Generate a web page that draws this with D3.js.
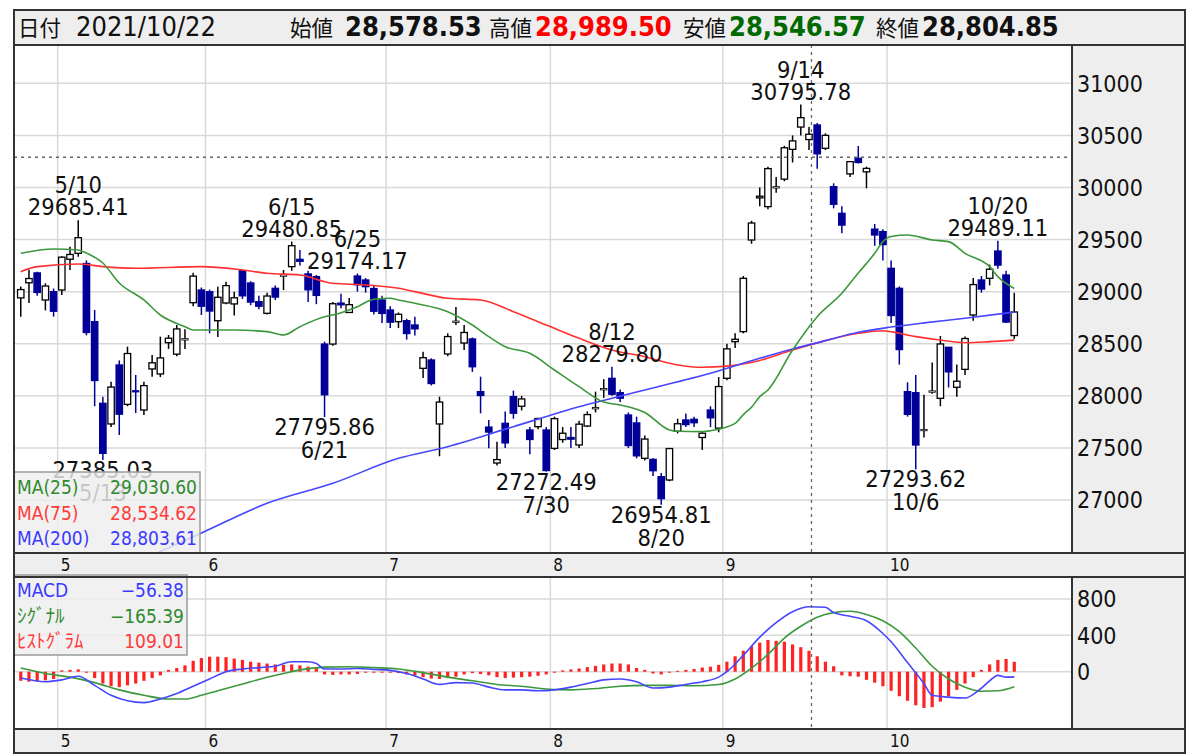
<!DOCTYPE html>
<html><head><meta charset="utf-8">
<script src="https://cdn.jsdelivr.net/npm/d3@7"></script>
<style>
body{margin:0;background:#fff;}
svg text{font-family:"DejaVu Sans Condensed","DejaVu Sans","Noto Sans CJK JP",sans-serif;}
</style></head><body>
<svg id="c" width="1200" height="756"></svg>
<script>
// ---- daily data (Nikkei 225, 2021) ----
const dates = ["4/23","4/26","4/27","4/28","4/30",
"5/6","5/7","5/10","5/11","5/12","5/13","5/14","5/17","5/18","5/19","5/20","5/21","5/24","5/25","5/26","5/27","5/28","5/31",
"6/1","6/2","6/3","6/4","6/7","6/8","6/9","6/10","6/11","6/14","6/15","6/16","6/17","6/18","6/21","6/22","6/23","6/24","6/25","6/28","6/29","6/30",
"7/1","7/2","7/5","7/6","7/7","7/8","7/9","7/12","7/13","7/14","7/15","7/16","7/19","7/20","7/21","7/26","7/27","7/28","7/29","7/30",
"8/2","8/3","8/4","8/5","8/6","8/10","8/11","8/12","8/13","8/16","8/17","8/18","8/19","8/20","8/23","8/24","8/25","8/26","8/27","8/30","8/31",
"9/1","9/2","9/3","9/6","9/7","9/8","9/9","9/10","9/13","9/14","9/15","9/16","9/17","9/21","9/22","9/24","9/27","9/28","9/29","9/30",
"10/1","10/4","10/5","10/6","10/7","10/8","10/11","10/12","10/13","10/14","10/15","10/18","10/19","10/20","10/21","10/22"];

const opens = [28940,29085,29180,28920,29000,
29016,29311,29368,29270,28712,27928,27730,28296,27918,28050,27864,28258,28210,28510,28400,28540,28894,29016,
29000,28721,28891,28882,29201,29083,28904,28792,29032,29150,29240,29310,29170,29144,28497,28497,28890,28800,29150,29112,29030,28920,
28824,28712,28721,28680,28264,28344,27730,28402,28712,28507,28546,28040,27700,27355,27736,27992,27900,27672,27704,27672,
27496,27580,27600,27528,27710,27880,28060,28168,28030,27816,27740,27400,27390,27224,27192,27660,27768,27775,27600,27864,27690,
28168,28520,28616,29496,29900,29816,30000,30080,30366,30580,30460,30600,30376,30008,29752,30130,30280,30150,29600,29576,
29224,29032,28040,28030,27670,28040,27976,28466,28082,28254,28776,29112,29128,29390,29160,28578.53];

const highs = [29050,29210,29190,29080,29030,
29340,29432,29685.41,29300,28824,27990,28136,28340,28472,28200,28136,28392,28568,28584,28680,28640,29182,29040,
29020,29048,29096,29000,29210,29100,28960,28990,29060,29208,29480.85,29400,29200,29160,28520,28900,28980,28940,29174.17,29130,29060,28960,
28860,28800,28740,28760,28424,28360,27992,28600,28853,28680,28560,28184,27768,27560,27850,28050,28000,27700,27790,27700,
27800,27700,27700,27760,27850,28040,28160,28279.80,28060,27840,27800,27620,27400,27260,27500,27780,27830,27800,27660,27900,28180,
28500,28600,29150,29680,30000,30200,30100,30400,30500,30795.78,30580,30620,30520,30040,29820,30250,30398,30200,29650,29600,
29300,29050,28130,28200,28010,28320,28574,28470,28300,28570,29130,29150,29260,29489.11,29200,28989.50];

const lows = [28760,28890,28960,28820,28760,
28968,29208,29336,28580,27900,27385.03,27700,27624,27900,27835,27816,28184,28180,28450,28380,28450,28860,28776,
28600,28565,28880,28770,28930,28870,28830,28780,28920,29016,29200,29250,28900,28880,27795.86,28480,28840,28800,29000,28990,28780,28700,
28650,28650,28540,28580,28171,28100,27420,28380,28680,28440,28230,27832,27496,27330,27500,27780,27860,27440,27680,27272.49,
27480,27550,27500,27500,27700,27840,27980,28000,27940,27500,27400,27380,27230,26954.81,27180,27640,27700,27700,27480,27700,27650,
28150,28460,28600,29460,29820,29790,29950,30060,30240,30500,30360,30180,30360,29800,29560,30100,30230,29992,29440,29300,
28700,28300,27800,27293.62,27600,28020,27900,28080,27990,28200,28720,28990,29060,29220,28700,28546.57];

const closes = [29020,29126,28992,29054,28812,
29331,29357,29518,28608,28147,27448,28084,27824,28406,28044,28098,28317,28364,28553,28642,28549,29149,28860,
28814,28946,29058,28941,28960,28900,28860,28958,28948,29161,29441,29291,29018,28964,28010,28884,28874,28875,29066,29048,28812,28791,
28707,28783,28598,28643,28366,28118,27940,28569,28718,28608,28279,28003,27652,27388,27548,27833,27970,27581,27782,27283,
27781,27641,27584,27728,27820,27888,28070,28015,27977,27523,27424,27585,27281,27013,27494,27732,27724,27742,27641,27789,28089,
28451,28543,29128,29659,29916,30181,30008,30381,30447,30670,30511,30323,30500,29839,29639,30248,30240,30183,29544,29452,
28771,28444,27822,27528,27678,28048,28498,28230,28140,28550,29068,29025,29215,29255,28708,28804.85];

// moving averages, [day index, value]
const ma25Pts = [[0,29368],[4,29410],[7,29400],[8,29370],[10,29275],[12,29083],[15,28920],[17,28776],[20,28664],[21,28632],[23,28632],[26,28632],[30,28616],[32,28584],[34,28664],[37,28760],[38,28776],[41,28856],[43,28927],[45,28936],[46,28920],[48,28888],[52,28808],[55,28680],[57,28568],[59,28472],[62,28408],[65,28248],[68,28088],[71,27940],[73,27912],[76,27840],[79,27672],[80,27660],[83,27656],[84,27665],[87,27736],[88,27820],[89,27890],[90,27992],[91,28056],[94,28440],[97,28760],[100,28984],[102,29179],[104,29368],[105,29480],[106,29530],[108,29544],[111,29496],[113,29480],[115,29368],[118,29240],[119,29144],[121,29030.60]];
const ma75Pts = [[0,29192],[2,29240],[7,29266],[10,29240],[14,29224],[22,29240],[27,29208],[30,29176],[34,29160],[38,29080],[42,29064],[46,29032],[48,29000],[52,28936],[56,28920],[60,28808],[64,28680],[68,28552],[72,28440],[76,28376],[80,28296],[83,28274],[86,28285],[90,28340],[94,28440],[98,28530],[102,28600],[105,28625],[107,28600],[109,28568],[112,28536],[115,28510],[118,28520],[121,28534.62]];
const ma200Pts = [[14,26400],[22,26683],[30,26968],[38,27160],[46,27400],[52,27512],[60,27704],[68,27896],[76,28056],[84,28216],[90,28360],[94,28450],[98,28530],[102,28610],[106,28660],[110,28700],[115,28744],[121,28803.61]];

// MACD
const macdPts = [[0,-70],[3,-110],[5,-90],[7,-50],[9,-150],[11,-260],[13,-320],[15,-340],[17,-300],[19,-240],[21,-160],[23,-80],[25,0],[27,30],[29,45],[31,60],[33,110],[35,110],[36,90],[37,30],[39,30],[41,35],[43,25],[45,15],[47,-20],[49,-80],[51,-140],[53,-120],[55,-125],[57,-170],[59,-200],[61,-200],[63,-210],[65,-200],[67,-170],[69,-130],[71,-90],[73,-80],[75,-110],[77,-180],[79,-170],[81,-140],[83,-110],[85,-60],[86,0],[88,180],[90,380],[92,540],[94,660],[96,715],[98,710],[99,650],[101,610],[103,560],[105,420],[106,330],[108,100],[110,-130],[111,-260],[113,-280],[115,-290],[116,-250],[117,-180],[118,-100],[119,-40],[120,-60],[121,-56.38]];
const signalPts = [[0,40],[3,-20],[6,-60],[9,-120],[12,-200],[15,-260],[18,-300],[20,-300],[22,-260],[24,-210],[26,-160],[28,-110],[30,-60],[32,-20],[34,20],[37,50],[40,55],[43,45],[46,30],[49,-10],[52,-60],[55,-100],[58,-140],[61,-160],[64,-190],[67,-200],[70,-185],[73,-160],[76,-150],[79,-150],[82,-155],[85,-140],[87,-80],[89,40],[91,190],[93,370],[95,500],[97,600],[99,650],[101,665],[103,630],[105,560],[107,440],[109,260],[111,60],[113,-80],[115,-170],[117,-215],[119,-210],[121,-165.39]];
const histogram = [-100,-110,-105,-95,-80,
15,20,25,-10,-70,-130,-160,-170,-150,-130,-100,-70,-40,20,40,70,120,150,
165,165,160,145,130,110,100,90,80,75,80,70,55,40,-30,-35,-30,-30,-25,-10,-5,0,
-10,-15,-30,-45,-60,-75,-80,-70,-55,-30,-15,-25,-40,-60,-70,-65,-60,-55,-45,-30,
-10,15,25,35,50,65,80,90,90,80,40,20,-20,-30,-10,10,20,30,45,55,75,
110,170,230,280,320,350,340,330,300,270,230,170,110,60,-40,-50,-55,-90,-120,-160,
-210,-270,-320,-370,-400,-390,-330,-270,-200,-130,-60,20,80,130,140,109.01];

const priceTicks = [27000,27500,28000,28500,29000,29500,30000,30500,31000];
const macdTicks = [0,400,800];

// swing highs / lows that carry a date + price note
const notes = [{i:7,k:"high"},{i:10,k:"low"},{i:33,k:"high"},{i:41,k:"high"},{i:37,k:"low"},{i:64,k:"low"},{i:72,k:"high"},{i:78,k:"low"},{i:95,k:"high"},{i:109,k:"low"},{i:119,k:"high"}];
const cursor = {i:96.3, price:30290};

// ---- layout ----
const L = 14, R = 1185, AX = 1072;
const headTop = 10, headBot = 45;
const mainTop = 45, mainBot = 553, band1Bot = 577;
const macdTop = 577, macdBot = 729, band2Bot = 753;
const firstX = 20.75, step = 8.211;

const svg = d3.select("#c");
const x = d3.scaleLinear().domain([0, 1]).range([firstX, firstX + step]);
const y = d3.scaleLinear().domain([27000, 31000]).range([500, 83.3]);
const ym = d3.scaleLinear().domain([0, 800]).range([671.7, 599]);

const GRID = "#d9d9d9", PANEL = "#eeeeee", FRAME = "#333";
const C_UP = "#000", C_DN = "#000099";

// panels
svg.append("rect").attr("x", L).attr("y", mainTop).attr("width", AX - L).attr("height", mainBot - mainTop).attr("fill", "#fff");
svg.append("rect").attr("x", AX).attr("y", mainTop).attr("width", R - AX).attr("height", mainBot - mainTop).attr("fill", PANEL);
svg.append("rect").attr("x", L).attr("y", mainBot).attr("width", R - L).attr("height", band1Bot - mainBot).attr("fill", PANEL);
svg.append("rect").attr("x", L).attr("y", macdTop).attr("width", AX - L).attr("height", macdBot - macdTop).attr("fill", "#fff");
svg.append("rect").attr("x", AX).attr("y", macdTop).attr("width", R - AX).attr("height", macdBot - macdTop).attr("fill", PANEL);
svg.append("rect").attr("x", L).attr("y", macdBot).attr("width", R - L).attr("height", band2Bot - macdBot).attr("fill", PANEL);

const defs = svg.append("defs");
defs.append("clipPath").attr("id", "cpMain").append("rect").attr("x", L).attr("y", mainTop).attr("width", AX - L).attr("height", mainBot - mainTop);
defs.append("clipPath").attr("id", "cpMacd").append("rect").attr("x", L).attr("y", macdTop).attr("width", AX - L).attr("height", macdBot - macdTop);

// month boundaries
const monthOf = d => +d.split("/")[0];
const monthStarts = [];
dates.forEach((d, i) => { if (i > 0 && monthOf(d) !== monthOf(dates[i - 1])) monthStarts.push({i, m: monthOf(d)}); });

const gMain = svg.append("g").attr("clip-path", "url(#cpMain)");
const gMacd = svg.append("g").attr("clip-path", "url(#cpMacd)");

// grid
gMain.selectAll("line.hg").data(priceTicks).join("line")
  .attr("x1", L).attr("x2", AX).attr("y1", d => y(d)).attr("y2", d => y(d))
  .attr("stroke", GRID).attr("stroke-width", 1.5);
gMain.selectAll("line.vg").data(monthStarts).join("line")
  .attr("x1", d => x(d.i - 0.5)).attr("x2", d => x(d.i - 0.5)).attr("y1", mainTop).attr("y2", mainBot)
  .attr("stroke", GRID).attr("stroke-width", 1.5);
gMacd.selectAll("line.hg").data(macdTicks).join("line")
  .attr("x1", L).attr("x2", AX).attr("y1", d => ym(d)).attr("y2", d => ym(d))
  .attr("stroke", GRID).attr("stroke-width", 1.5);
gMacd.selectAll("line.vg").data(monthStarts).join("line")
  .attr("x1", d => x(d.i - 0.5)).attr("x2", d => x(d.i - 0.5)).attr("y1", macdTop).attr("y2", macdBot)
  .attr("stroke", GRID).attr("stroke-width", 1.5);

// candles
const candles = dates.map((d, i) => ({i, o: opens[i], h: highs[i], l: lows[i], c: closes[i]}));
const bw = 6.4;
const cg = gMain.selectAll("g.cd").data(candles).join("g");
cg.append("line")
  .attr("x1", d => x(d.i)).attr("x2", d => x(d.i))
  .attr("y1", d => y(d.h)).attr("y2", d => y(d.l))
  .attr("stroke", d => d.c >= d.o ? C_UP : C_DN).attr("stroke-width", 1.5);
cg.append("rect")
  .attr("x", d => x(d.i) - bw / 2).attr("width", bw)
  .attr("y", d => y(Math.max(d.o, d.c)))
  .attr("height", d => Math.max(1.4, Math.abs(y(d.o) - y(d.c))))
  .attr("fill", d => d.c >= d.o ? "#fff" : C_DN)
  .attr("stroke", d => d.c >= d.o ? C_UP : C_DN)
  .attr("stroke-width", d => Math.abs(y(d.o) - y(d.c)) < 1.5 ? 0.8 : 1.3);

// moving averages
const line = d3.line().x(d => x(d[0])).y(d => y(d[1])).curve(d3.curveMonotoneX);
gMain.append("path").attr("d", line(ma75Pts)).attr("fill", "none").attr("stroke", "#ff3030").attr("stroke-width", 1.6);
gMain.append("path").attr("d", line(ma200Pts)).attr("fill", "none").attr("stroke", "#4646ff").attr("stroke-width", 1.6);
gMain.append("path").attr("d", line(ma25Pts)).attr("fill", "none").attr("stroke", "#3c983c").attr("stroke-width", 1.6);

// MACD histogram + lines
gMacd.selectAll("rect.hb").data(histogram).join("rect")
  .attr("x", (v, i) => x(i) - 1.6).attr("width", 3.2)
  .attr("y", v => Math.min(ym(0), ym(v))).attr("height", v => Math.max(1, Math.abs(ym(v) - ym(0))))
  .attr("fill", "#ff2222");
const mline = d3.line().x(d => x(d[0])).y(d => ym(d[1])).curve(d3.curveMonotoneX);
gMacd.append("path").attr("d", mline(signalPts)).attr("fill", "none").attr("stroke", "#3c983c").attr("stroke-width", 1.6);
gMacd.append("path").attr("d", mline(macdPts)).attr("fill", "none").attr("stroke", "#4646ff").attr("stroke-width", 1.6);

// cursor
const dash = "3,4";
gMain.append("line").attr("x1", L).attr("x2", AX).attr("y1", y(cursor.price)).attr("y2", y(cursor.price))
  .attr("stroke", "#666").attr("stroke-width", 1.3).attr("stroke-dasharray", dash);
gMain.append("line").attr("x1", x(cursor.i)).attr("x2", x(cursor.i)).attr("y1", mainTop).attr("y2", mainBot)
  .attr("stroke", "#666").attr("stroke-width", 1.3).attr("stroke-dasharray", dash);
gMacd.append("line").attr("x1", x(cursor.i)).attr("x2", x(cursor.i)).attr("y1", macdTop).attr("y2", macdBot)
  .attr("stroke", "#666").attr("stroke-width", 1.3).attr("stroke-dasharray", dash);

// high / low notes
const nf = 23.5;
const gN = svg.append("g").attr("font-size", nf).attr("fill", "#111").attr("text-anchor", "middle");
notes.forEach(n => {
  const cx = x(n.i);
  const v = n.k === "high" ? highs[n.i] : lows[n.i];
  const vy = y(v);
  if (n.k === "high") {
    gN.append("text").attr("x", cx).attr("y", vy - 5).text(v.toFixed(2));
    gN.append("text").attr("x", cx).attr("y", vy - 27).text(dates[n.i]);
  } else {
    gN.append("text").attr("x", cx).attr("y", vy + 18).text(v.toFixed(2));
    gN.append("text").attr("x", cx).attr("y", vy + 41).text(dates[n.i]);
  }
});

// legends
const f2 = d3.format(",.2f"), f2s = d3.format(".2f");
const last = a => a[a.length - 1][1];
function legendBox(x0, y0, w, h, rows, vx) {
  svg.append("rect").attr("x", x0).attr("y", y0).attr("width", w).attr("height", h)
    .attr("fill", "#eeeeee").attr("fill-opacity", 0.82).attr("stroke", "#9a9a9a").attr("stroke-width", 1.5);
  rows.forEach((r, k) => {
    const by = y0 + 22 + k * 25.6;
    svg.append("text").attr("x", x0 + 3).attr("y", by).attr("font-size", 19).attr("fill", r.c).text(r.n);
    svg.append("text").attr("x", vx).attr("y", by).attr("font-size", 19).attr("fill", r.c).attr("text-anchor", "end").text(r.v);
  });
}
legendBox(L, 472, 186, 81, [
  {n: "MA(25)", v: f2(last(ma25Pts)), c: "#2f8a2f"},
  {n: "MA(75)", v: f2(last(ma75Pts)), c: "#ff3a3a"},
  {n: "MA(200)", v: f2(last(ma200Pts)), c: "#3a3aff"}], 197);
legendBox(L, 575, 173, 80, [
  {n: "MACD", v: f2s(last(macdPts)), c: "#3a3aff"},
  {n: "ｼｸﾞﾅﾙ", v: f2s(last(signalPts)), c: "#2f8a2f"},
  {n: "ﾋｽﾄｸﾞﾗﾑ", v: f2s(histogram[histogram.length - 1]), c: "#ff3a3a"}], 184);

// axes labels
svg.selectAll("text.pt").data(priceTicks).join("text")
  .attr("x", AX + 5).attr("y", d => y(d)).attr("dy", "0.36em").attr("font-size", 23).attr("fill", "#111").text(d => d);
svg.selectAll("text.mt").data(macdTicks).join("text")
  .attr("x", AX + 5).attr("y", d => ym(d)).attr("dy", "0.36em").attr("font-size", 23).attr("fill", "#111").text(d => d);
[mainBot, macdBot].forEach(b => {
  svg.append("g").selectAll("text").data(monthStarts).join("text")
    .attr("x", d => x(d.i - 0.5) + 3).attr("y", b + 17.5).attr("font-size", 17).attr("fill", "#111").text(d => d.m);
});

// frames
const fr = (x0, y0, w, h) => svg.append("rect").attr("x", x0).attr("y", y0).attr("width", w).attr("height", h)
  .attr("fill", "none").attr("stroke", FRAME).attr("stroke-width", 2);
fr(L, mainTop, R - L, mainBot - mainTop);
fr(L, mainBot, R - L, band1Bot - mainBot);
fr(L, macdTop, R - L, macdBot - macdTop);
fr(L, macdBot, R - L, band2Bot - macdBot);
svg.append("line").attr("x1", AX).attr("x2", AX).attr("y1", mainTop).attr("y2", mainBot).attr("stroke", FRAME).attr("stroke-width", 2);
svg.append("line").attr("x1", AX).attr("x2", AX).attr("y1", macdTop).attr("y2", macdBot).attr("stroke", FRAME).attr("stroke-width", 2);

// header
svg.append("rect").attr("x", L).attr("y", headTop).attr("width", R - L).attr("height", headBot - headTop)
  .attr("fill", PANEL).attr("stroke", FRAME).attr("stroke-width", 2);
const hy = 36, hf = 27, jf = 21.5;
const n = closes.length - 1;
const head = [
  {x: 18, t: "日付", c: "#111", b: false, s: jf},
  {x: 76, t: "2021/10/22", c: "#111", b: false, s: hf},
  {x: 290, t: "始値", c: "#111", b: false, s: jf},
  {x: 345, t: f2(opens[n]), c: "#111", b: true, s: hf},
  {x: 489, t: "高値", c: "#111", b: false, s: jf},
  {x: 535, t: f2(highs[n]), c: "#ff0000", b: true, s: hf},
  {x: 683, t: "安値", c: "#111", b: false, s: jf},
  {x: 729, t: f2(lows[n]), c: "#006a00", b: true, s: hf},
  {x: 876, t: "終値", c: "#111", b: false, s: jf},
  {x: 922, t: f2(closes[n]), c: "#111", b: true, s: hf}];
head.forEach(h => svg.append("text").attr("x", h.x).attr("y", hy).attr("font-size", h.s)
  .attr("font-weight", h.b ? "bold" : "normal").attr("fill", h.c).text(h.t));
</script>
</body></html>
